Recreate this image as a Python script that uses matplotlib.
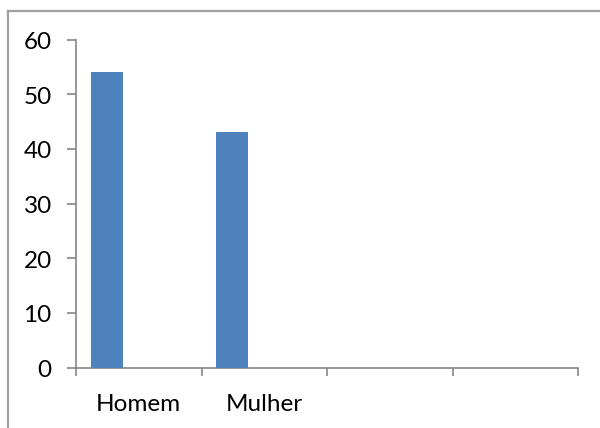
import matplotlib
matplotlib.use("Agg")
import matplotlib.pyplot as plt
from matplotlib.lines import Line2D
from matplotlib.transforms import ScaledTranslation

categories = ["Homem", "Mulher", "", ""]
values = [54, 43]
yticks = [0, 10, 20, 30, 40, 50, 60]

bar_color = "#4F81BD"
axis_color = "#868686"

plt.rcParams["font.family"] = ["Lato", "DejaVu Sans"]

fig = plt.figure(figsize=(6.0, 4.28), dpi=100)
ax = fig.add_axes([76 / 600, 1 - 367.7 / 428, (578 - 76) / 600, (367.7 - 39.5) / 428])

n = len(categories)
width = 0.255
xs = [i + 0.5 - width for i in range(len(values))]
ax.bar(xs, values, width=width, color=bar_color, zorder=3)

ax.set_xlim(0, n)
ax.set_ylim(0, 60)

ax.set_yticks(yticks)
ax.set_yticklabels([str(t) for t in yticks])
ax.tick_params(axis="y", direction="out", length=6.5, width=1.2, color=axis_color,
               labelsize=17.5, pad=11, labelcolor="black")
shift_down = ScaledTranslation(0, -3 / 100, fig.dpi_scale_trans)
for lbl in ax.get_yticklabels():
    lbl.set_verticalalignment("center")
    lbl.set_transform(lbl.get_transform() + shift_down)

ax.set_xticks(range(n + 1))
ax.set_xticklabels([])
ax.tick_params(axis="x", which="major", direction="out", length=6, width=1.2, color=axis_color)
ax.set_xticks([i + 0.5 for i in range(n)], minor=True)
ax.set_xticklabels(categories, minor=True)
ax.tick_params(axis="x", which="minor", length=0, labelsize=17.5, pad=19, labelcolor="black")

for side in ("top", "right"):
    ax.spines[side].set_visible(False)
for side in ("left", "bottom"):
    ax.spines[side].set_color(axis_color)
    ax.spines[side].set_linewidth(1.2)

# outer chart-area frame (top and left edges)
fig.add_artist(Line2D([8 / 600, 8 / 600], [0, 1 - 10.5 / 428], transform=fig.transFigure,
                      color="#A0A0A0", linewidth=1.6))
fig.add_artist(Line2D([8 / 600, 1], [1 - 10.5 / 428, 1 - 10.5 / 428], transform=fig.transFigure,
                      color="#A0A0A0", linewidth=1.6))

fig.savefig("out.png", dpi=100)
